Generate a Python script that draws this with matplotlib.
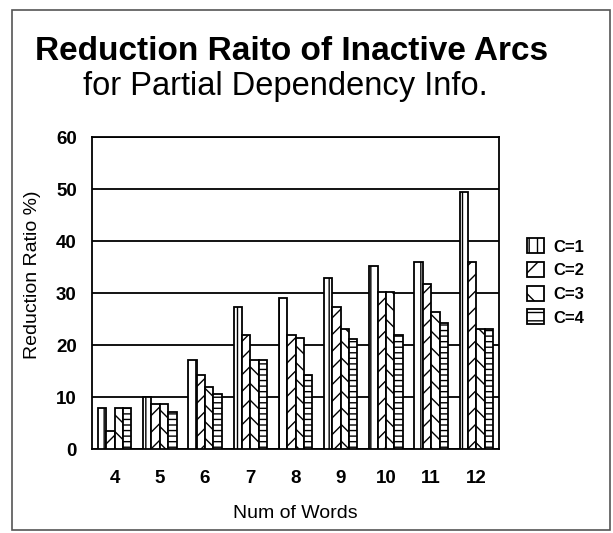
import numpy as np
import matplotlib
matplotlib.use('Agg')
import matplotlib.pyplot as plt
from matplotlib.patches import Rectangle, Patch

# Data
words = ['4', '5', '6', '7', '8', '9', '10', '11', '12']
c1 = [7.8, 10.0, 17.1, 27.4, 29.0, 32.9, 35.2, 35.9, 49.5]
c2 = [3.5, 8.7, 14.2, 21.9, 21.9, 27.3, 30.2, 31.8, 35.9]
c3 = [7.8, 8.7, 11.9, 17.1, 21.3, 23.1, 30.2, 26.3, 23.1]
c4 = [7.8, 7.1, 10.6, 17.1, 14.2, 21.2, 22.0, 24.3, 23.1]
series_names = ['C=1', 'C=2', 'C=3', 'C=4']
y_ticks = [0, 10, 20, 30, 40, 50, 60]

plt.rcParams['hatch.linewidth'] = 1.0
plt.rcParams['font.family'] = ['Liberation Sans', 'DejaVu Sans']

fig = plt.figure(figsize=(6.13, 5.33), dpi=100)
# outer frame around the whole picture
fig.patches.append(Rectangle((12 / 613, 3 / 533), 598 / 613, 520 / 533,
                             transform=fig.transFigure, fill=False,
                             edgecolor='#555555', linewidth=1.2))

ax = fig.add_axes([92 / 613, 84 / 533, 407 / 613, 312 / 533])

hatches = ['||', '//', '\\\\', '---']
x = np.arange(len(words))
w = 0.185
for j, (vals, h) in enumerate(zip([c1, c2, c3, c4], hatches)):
    ax.bar(x + (j - 1.5) * w, vals, width=w, color='white', edgecolor='black',
           hatch=h, linewidth=1.3, zorder=3)

ax.set_xlim(-0.5, len(words) - 0.5)
ax.set_ylim(0, 60)
ax.set_yticks(y_ticks)
ax.set_xticks(x)
ax.set_xticklabels(words, fontsize=13.5, fontweight='bold')
ax.set_yticklabels([str(t) for t in y_ticks], fontsize=13.5, fontweight='bold')
ax.tick_params(length=0)
ax.tick_params(axis='y', pad=11)
ax.tick_params(axis='x', pad=15)
ax.yaxis.grid(True, color='black', linewidth=1.3, zorder=0)
for s in ax.spines.values():
    s.set_linewidth(1.3)
    s.set_color('black')

fig.text(295 / 613, 1 - 513 / 533, 'Num of Words', fontsize=14,
         ha='center', va='center')
fig.text(33 / 613, 1 - 275 / 533, 'Reduction Ratio %)', rotation=90,
         fontsize=14, ha='center', va='center')

fig.text(35 / 613, 1 - 60 / 533, 'Reduction Raito of Inactive Arcs',
         fontsize=24, fontweight='bold', ha='left', va='baseline')
fig.text(83 / 613, 1 - 95 / 533, 'for Partial Dependency Info.',
         fontsize=23.5, ha='left', va='baseline')

handles = [Patch(facecolor='white', edgecolor='black', hatch=h, linewidth=1.3)
           for h in ['||', '/', '\\', '--']]
leg = ax.legend(handles, series_names, loc='center left',
                bbox_to_anchor=(1.033, 0.535), frameon=False,
                handlelength=1.0, handleheight=1.0, labelspacing=0.45,
                handletextpad=0.55, prop={'size': 12, 'weight': 'bold'})

fig.savefig('out.png', dpi=100)
